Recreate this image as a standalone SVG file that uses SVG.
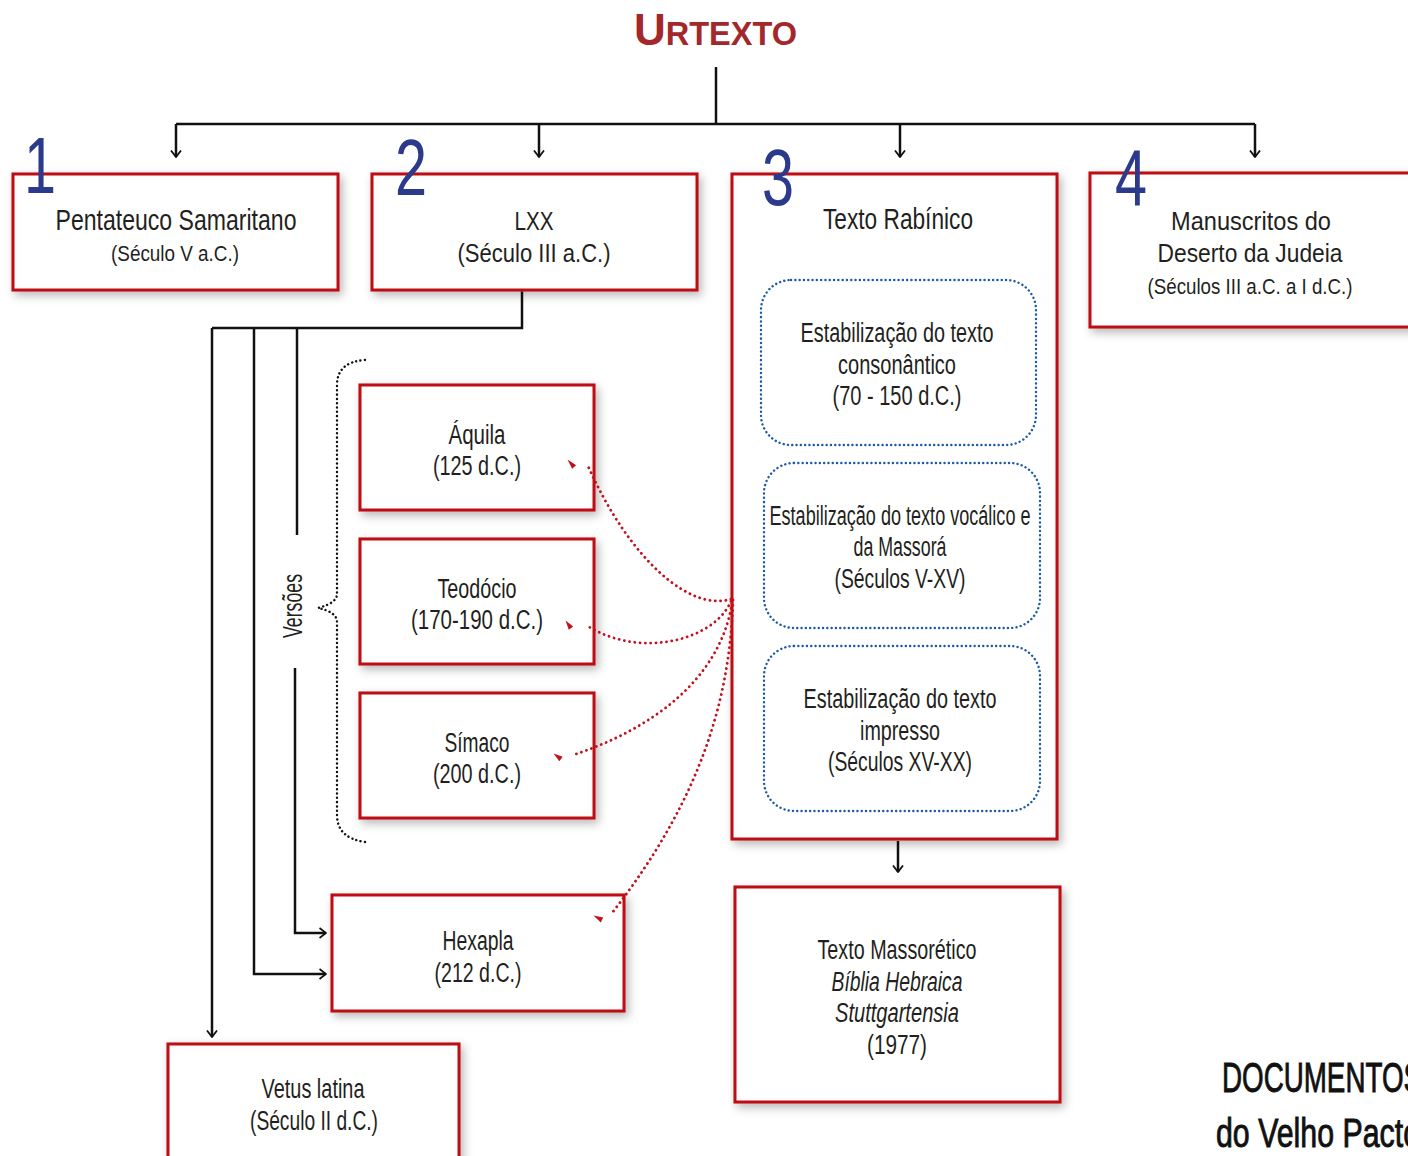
<svg xmlns="http://www.w3.org/2000/svg" width="1408" height="1156" viewBox="0 0 1408 1156">
<style>
text{font-family:"Liberation Sans Narrow","Liberation Sans",Arial,sans-serif;fill:#231f20}
.t{text-anchor:middle}
.box{fill:#fff;stroke:#c1121c;stroke-width:3}
.inner{fill:none;stroke:#1d5aa8;stroke-width:2.4;stroke-dasharray:0.1 4.2;stroke-linecap:round}
.num{fill:#2c3a8c;font-size:80px;text-anchor:middle}
.ln{fill:none;stroke:#111;stroke-width:2.5}
.red{fill:none;stroke:#c1121c;stroke-width:2.8;stroke-dasharray:0.1 5.2;stroke-linecap:round}
.rh{fill:#c1121c}
.brace{fill:none;stroke:#111;stroke-width:2.4;stroke-dasharray:0.1 4.2;stroke-linecap:round}
</style>
<defs>
<marker id="ah" viewBox="0 0 8 12" refX="7" refY="6" markerWidth="8" markerHeight="12" orient="auto" markerUnits="userSpaceOnUse">
<path d="M0.5,1 L7,6 L0.5,11" fill="none" stroke="#111" stroke-width="1.8"/>
</marker>
<filter id="sh" x="-15%" y="-15%" width="135%" height="135%">
<feGaussianBlur in="SourceAlpha" stdDeviation="5" result="b"/>
<feOffset in="b" dx="3" dy="4" result="o"/>
<feFlood flood-color="#000" flood-opacity="0.28"/>
<feComposite in2="o" operator="in" result="outer"/>
<feComponentTransfer in="SourceAlpha" result="inv"><feFuncA type="table" tableValues="1 0"/></feComponentTransfer>
<feGaussianBlur in="inv" stdDeviation="6" result="invb"/>
<feComposite in="invb" in2="SourceAlpha" operator="in" result="ia"/>
<feFlood flood-color="#000" flood-opacity="0.10"/>
<feComposite in2="ia" operator="in" result="innerS"/>
<feMerge><feMergeNode in="outer"/><feMergeNode in="SourceGraphic"/><feMergeNode in="innerS"/></feMerge>
</filter>
</defs>
<rect width="1408" height="1156" fill="#fff"/>

<g id="title">
<text x="634" y="45" font-weight="bold" style="fill:#a3282b"><tspan font-size="44">U</tspan><tspan font-size="32.5">RTEXTO</tspan></text>
</g>

<g id="n1">
<rect class="box" x="13" y="174" width="325" height="116" filter="url(#sh)"/>
<text class="num" transform="translate(40,193) scale(0.72,1)" x="0" y="0">1</text>
<text class="t" x="176" y="230" font-size="29" textLength="241" lengthAdjust="spacingAndGlyphs">Pentateuco Samaritano</text>
<text class="t" x="175" y="261" font-size="22" textLength="128" lengthAdjust="spacingAndGlyphs">(Século V a.C.)</text>
</g>

<g id="n2">
<rect class="box" x="372" y="174" width="325" height="116" filter="url(#sh)"/>
<text class="num" transform="translate(411,195) scale(0.72,1)" x="0" y="0">2</text>
<text class="t" x="534" y="230" font-size="26" textLength="39" lengthAdjust="spacingAndGlyphs">LXX</text>
<text class="t" x="534" y="262" font-size="26" textLength="153" lengthAdjust="spacingAndGlyphs">(Século III a.C.)</text>
</g>

<g id="n3">
<rect class="box" x="732" y="174" width="325" height="665" filter="url(#sh)"/>
<text class="num" transform="translate(778,205) scale(0.72,1)" x="0" y="0">3</text>
<text class="t" x="898" y="229" font-size="29" textLength="150" lengthAdjust="spacingAndGlyphs">Texto Rabínico</text>
</g>

<g id="n3a">
<rect class="inner" x="761" y="280" width="275" height="165" rx="30"/>
<text class="t" x="897" y="342" font-size="27" textLength="193" lengthAdjust="spacingAndGlyphs">Estabilização do texto</text>
<text class="t" x="897" y="374" font-size="27" textLength="118" lengthAdjust="spacingAndGlyphs">consonântico</text>
<text class="t" x="897" y="405" font-size="27" textLength="129" lengthAdjust="spacingAndGlyphs">(70 - 150 d.C.)</text>
</g>

<g id="n3b">
<rect class="inner" x="764" y="463" width="276" height="165" rx="30"/>
<text class="t" x="900" y="525" font-size="27" textLength="261" lengthAdjust="spacingAndGlyphs">Estabilização do texto vocálico e</text>
<text class="t" x="900" y="556" font-size="27" textLength="93" lengthAdjust="spacingAndGlyphs">da Massorá</text>
<text class="t" x="900" y="588" font-size="27" textLength="131" lengthAdjust="spacingAndGlyphs">(Séculos V-XV)</text>
</g>

<g id="n3c">
<rect class="inner" x="764" y="646" width="276" height="165" rx="30"/>
<text class="t" x="900" y="708" font-size="27" textLength="193" lengthAdjust="spacingAndGlyphs">Estabilização do texto</text>
<text class="t" x="900" y="740" font-size="27" textLength="80" lengthAdjust="spacingAndGlyphs">impresso</text>
<text class="t" x="900" y="771" font-size="27" textLength="144" lengthAdjust="spacingAndGlyphs">(Séculos XV-XX)</text>
</g>

<g id="n4">
<rect class="box" x="1090" y="173" width="335" height="154" filter="url(#sh)"/>
<text class="num" transform="translate(1131,205) scale(0.72,1)" x="0" y="0">4</text>
<text class="t" x="1251" y="230" font-size="26" textLength="160" lengthAdjust="spacingAndGlyphs">Manuscritos do</text>
<text class="t" x="1250" y="262" font-size="26" textLength="185" lengthAdjust="spacingAndGlyphs">Deserto da Judeia</text>
<text class="t" x="1250" y="294" font-size="22" textLength="205" lengthAdjust="spacingAndGlyphs">(Séculos III a.C. a I d.C.)</text>
</g>

<g id="aquila">
<rect class="box" x="360" y="385" width="234" height="125" filter="url(#sh)"/>
<text class="t" x="477" y="444" font-size="27" textLength="57" lengthAdjust="spacingAndGlyphs">Áquila</text>
<text class="t" x="477" y="475" font-size="27" textLength="88" lengthAdjust="spacingAndGlyphs">(125 d.C.)</text>
</g>

<g id="teodocio">
<rect class="box" x="360" y="539" width="234" height="125" filter="url(#sh)"/>
<text class="t" x="477" y="598" font-size="27" textLength="79" lengthAdjust="spacingAndGlyphs">Teodócio</text>
<text class="t" x="477" y="629" font-size="27" textLength="132" lengthAdjust="spacingAndGlyphs">(170-190 d.C.)</text>
</g>

<g id="simaco">
<rect class="box" x="360" y="693" width="234" height="125" filter="url(#sh)"/>
<text class="t" x="477" y="752" font-size="27" textLength="65" lengthAdjust="spacingAndGlyphs">Símaco</text>
<text class="t" x="477" y="783" font-size="27" textLength="88" lengthAdjust="spacingAndGlyphs">(200 d.C.)</text>
</g>

<g id="hexapla">
<rect class="box" x="332" y="895" width="292" height="116" filter="url(#sh)"/>
<text class="t" x="478" y="950" font-size="27" textLength="71" lengthAdjust="spacingAndGlyphs">Hexapla</text>
<text class="t" x="478" y="982" font-size="27" textLength="87" lengthAdjust="spacingAndGlyphs">(212 d.C.)</text>
</g>

<g id="vetus">
<rect class="box" x="168" y="1044" width="291" height="130" filter="url(#sh)"/>
<text class="t" x="313" y="1098" font-size="27" textLength="103" lengthAdjust="spacingAndGlyphs">Vetus latina</text>
<text class="t" x="314" y="1130" font-size="27" textLength="128" lengthAdjust="spacingAndGlyphs">(Século II d.C.)</text>
</g>

<g id="massoretico">
<rect class="box" x="735" y="887" width="325" height="215" filter="url(#sh)"/>
<text class="t" x="897" y="959" font-size="27" textLength="159" lengthAdjust="spacingAndGlyphs">Texto Massorético</text>
<text class="t" x="897" y="991" font-size="27" font-style="italic" textLength="131" lengthAdjust="spacingAndGlyphs">Bíblia Hebraica</text>
<text class="t" x="897" y="1022" font-size="27" font-style="italic" textLength="124" lengthAdjust="spacingAndGlyphs">Stuttgartensia</text>
<text class="t" x="897" y="1054" font-size="27" textLength="60" lengthAdjust="spacingAndGlyphs">(1977)</text>
</g>

<g id="documentos">
<text x="1222" y="1092" font-size="42" textLength="200" lengthAdjust="spacingAndGlyphs" style="fill:#111;stroke:#111;stroke-width:0.9">DOCUMENTOS</text>
<text x="1216" y="1147" font-size="40" textLength="204" lengthAdjust="spacingAndGlyphs" style="fill:#111;stroke:#111;stroke-width:0.9">do Velho Pacto</text>
</g>

<g id="connectors">
<path class="ln" d="M716,67 V124 M176,124 H1255"/>
<path class="ln" d="M176,124 V157" marker-end="url(#ah)"/>
<path class="ln" d="M539,124 V157" marker-end="url(#ah)"/>
<path class="ln" d="M900,124 V157" marker-end="url(#ah)"/>
<path class="ln" d="M1255,124 V157" marker-end="url(#ah)"/>
<path class="ln" d="M522,291.5 V328 H212"/>
<path class="ln" d="M212,328 V1037" marker-end="url(#ah)"/>
<path class="ln" d="M254,328 V974 H326" marker-end="url(#ah)"/>
<path class="ln" d="M297,328 V535"/>
<path class="ln" d="M295,668 V933 H326" marker-end="url(#ah)"/>
<path class="ln" d="M898,841 V872" marker-end="url(#ah)"/>
<path class="red" d="M731,599 C690,612 630,560 588,466"/>
<path class="red" d="M731,601 C715,640 640,660 586,625"/>
<path class="red" d="M732,603 C720,680 650,730 573,755"/>
<path class="red" d="M733,600 C730,700 700,800 612,913"/>
<path class="rh" d="M567.5,459.5 L572.1,468.8 L576.1,465.2 Z"/>
<path class="rh" d="M565.5,620.5 L568.8,629.8 L573.2,626.4 Z"/>
<path class="rh" d="M553.5,753.5 L559.3,761.2 L562.7,756.8 Z"/>
<path class="rh" d="M593.5,915.5 L600.8,922.4 L603.2,917.6 Z"/>
<path class="brace" d="M365,360 Q337,362 337,385 L337,594 Q337,603 318,608 Q337,612 337,622 L337,815 Q337,838 365,842"/>
<text transform="translate(302,606) rotate(-90)" class="t" font-size="27" textLength="64" lengthAdjust="spacingAndGlyphs">Versões</text>
</g>
</svg>
